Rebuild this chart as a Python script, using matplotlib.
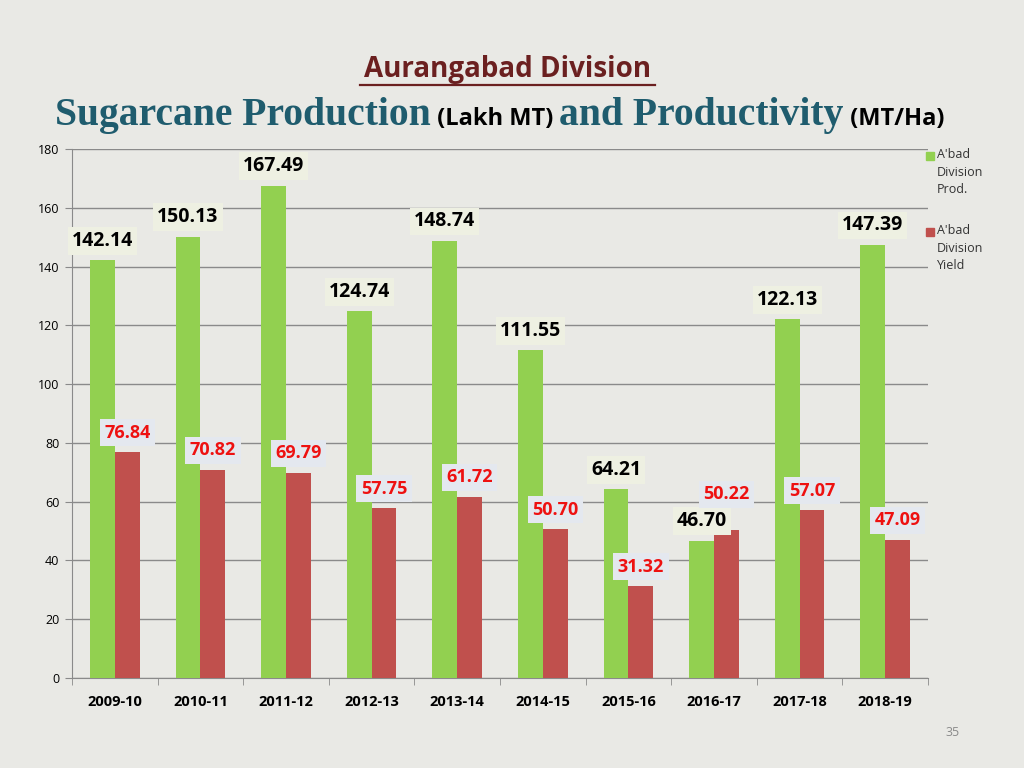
import matplotlib
matplotlib.use("Agg")
import matplotlib.pyplot as plt
import numpy as np

plt.rcParams.update({'font.family': ['Open Sans', 'DejaVu Sans']})

# data
years = ["2009-10", "2010-11", "2011-12", "2012-13", "2013-14",
         "2014-15", "2015-16", "2016-17", "2017-18", "2018-19"]
production = [142.14, 150.13, 167.49, 124.74, 148.74, 111.55, 64.21, 46.70, 122.13, 147.39]
yield_ha = [76.84, 70.82, 69.79, 57.75, 61.72, 50.70, 31.32, 50.22, 57.07, 47.09]
legend_labels = ["A'bad\nDivision\nProd.", "A'bad\nDivision\nYield"]

GREEN = "#92d050"
RED = "#c0504d"
BG = "#e9e9e5"
GRID = "#8a8a8a"

fig = plt.figure(figsize=(10.24, 7.68), dpi=100, facecolor=BG)
ax = fig.add_axes([72 / 1024, 1 - 678 / 768, 856 / 1024, 529 / 768])
ax.set_facecolor("none")

x = np.arange(len(years))
w = 0.29
ax.bar(x - w / 2, production, w, color=GREEN, zorder=3)
ax.bar(x + w / 2, yield_ha, w, color=RED, zorder=3)

ax.set_xlim(-0.5, len(years) - 0.5)
ax.set_ylim(0, 180)
ax.set_yticks(range(0, 181, 20))
ax.yaxis.grid(True, color=GRID, linewidth=1, zorder=0)
ax.tick_params(axis="y", labelsize=9, length=5, color=GRID, pad=4)
ax.set_xticks(x)
ax.set_xticklabels(years, fontsize=10.5, fontweight="bold")
ax.tick_params(axis="x", which="major", length=0, pad=12)
ax.set_xticks(np.arange(-0.5, len(years)), minor=True)
ax.tick_params(axis="x", which="minor", length=5, color=GRID)
for s in ["top", "right"]:
    ax.spines[s].set_visible(False)
ax.spines["left"].set_color(GRID)
ax.spines["bottom"].set_color(GRID)

# data labels
for i, v in enumerate(production):
    ax.annotate(f"{v:.2f}", (x[i] - w / 2, v), xytext=(0, 14), textcoords="offset points",
                ha="center", va="center", fontsize=14, fontweight="bold", color="black",
                bbox=dict(boxstyle="square,pad=0.2", fc="#eef0e2", ec="none"), zorder=5)

extra = {7: 12}  # 2016-17 yield label sits higher
for i, v in enumerate(yield_ha):
    ax.annotate(f"{v:.2f}", (x[i] + w / 2, v), xytext=(0, 14 + extra.get(i, 0)),
                textcoords="offset points", ha="center", va="center", fontsize=13,
                fontweight="bold", color="#ee1111",
                bbox=dict(boxstyle="square,pad=0.25", fc="#e4e8ef", ec="none"), zorder=5)

# legend drawn by hand so the square sits on the first line
for lab, col, ytop in zip(legend_labels, [GREEN, RED], [156, 232]):
    fig.patches.append(plt.Rectangle((926 / 1024, 1 - (ytop + 4) / 768), 8 / 1024, 8 / 768,
                                     transform=fig.transFigure, color=col))
    fig.text(937 / 1024, 1 - (ytop - 8) / 768, lab, ha="left", va="top", fontsize=9,
             linespacing=1.45, color="#333333")

# titles
fig.text(508 / 1024, 1 - 77 / 768, "Aurangabad Division", ha="center", va="baseline",
         fontsize=20, fontweight="bold", color="#6b2020")
fig.add_artist(plt.Line2D([360 / 1024, 655 / 1024], [1 - 85 / 768, 1 - 85 / 768],
                          color="#6b2020", linewidth=1.6))

parts = [("Sugarcane Production", "Liberation Serif", 28.5),
         (" (Lakh MT) ", "Open Sans", 17),
         ("and Productivity", "Liberation Serif", 28.5),
         (" (MT/Ha)", "Open Sans", 17)]
renderer = fig.canvas.get_renderer()
xpos = 55
for txt, fam, size in parts:
    col = "#1f5c6e" if fam == "Liberation Serif" else "black"
    t = fig.text(xpos / 1024, 1 - 125 / 768, txt, ha="left", va="baseline", fontsize=size,
                 fontweight="bold", family=fam, color=col)
    xpos += t.get_window_extent(renderer).width

fig.text(953 / 1024, 1 - 733 / 768, "35", ha="center", va="center", fontsize=9, color="#8a8a8a")

fig.savefig("out.png", dpi=100, facecolor=BG)
